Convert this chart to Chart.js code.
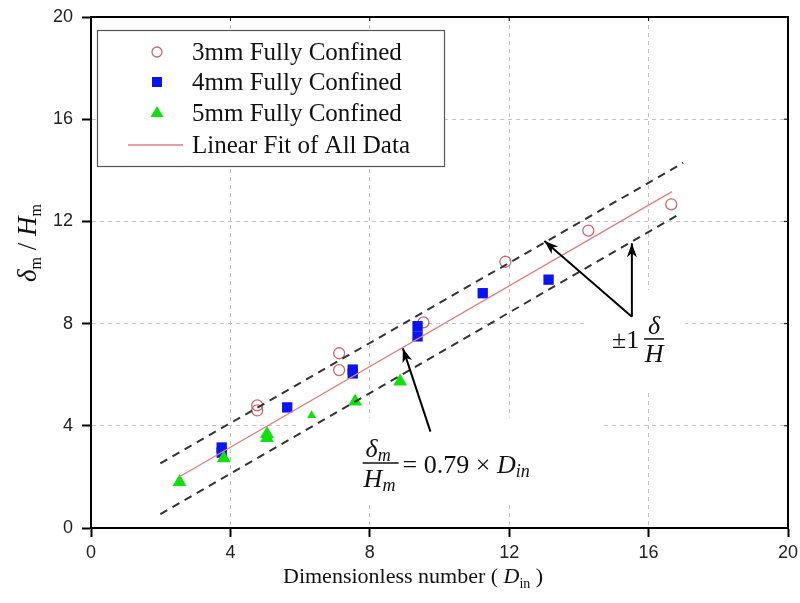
<!DOCTYPE html>
<html>
<head>
<meta charset="utf-8">
<script src="https://cdn.jsdelivr.net/npm/chart.js@4.4.1/dist/chart.umd.min.js"></script>
<style>
  html, body { margin: 0; padding: 0; background: #fff; }
  #wrap { width: 800px; height: 603px; }
</style>
</head>
<body>
<div id="wrap"><canvas id="chart" width="800" height="603"></canvas></div>
<script>
// values: x = D_in, y = delta_m / H_m
const x3mm = [4.77, 4.77, 7.12, 7.12, 9.54, 11.89, 14.27, 16.65];
const y3mm = [4.80, 4.60, 6.84, 6.18, 8.05, 10.42, 11.64, 12.67];

const x4mm = [3.75, 3.75, 5.63, 7.51, 7.51, 9.37, 9.37, 11.24, 13.13];
const y4mm = [3.15, 2.95, 4.72, 6.20, 6.05, 7.90, 7.50, 9.19, 9.72];

const x5mm = [2.54, 3.81, 5.05, 5.05, 6.33, 7.58, 8.87];
const y5mm = [1.80, 2.73, 3.68, 3.52, 4.30, 4.95, 5.73];

const fitSlope = 0.79;
const fitX = [2.54, 16.67];

// +/- band (dashed)
const upperX = [1.99, 16.99];
const upperY = [2.53, 14.29];
const lowerX = [1.99, 16.84];
const lowerY = [0.54, 12.25];

// annotation arrows, tail -> head
const arrowEqX = [9.74, 8.95];
const arrowEqY = [3.77, 7.03];
const arrowDiagX = [15.52, 13.01];
const arrowDiagY = [8.27, 11.23];
const arrowVertX = [15.52, 15.52];
const arrowVertY = [8.27, 11.14];

const axisTicks = [0, 4, 8, 12, 16, 20];

const legendLabels = ['3mm Fully Confined', '4mm Fully Confined', '5mm Fully Confined', 'Linear Fit of All Data'];

const pts = (xs, ys) => xs.map((x, i) => ({ x: x, y: ys[i] }));

const SERIF = '"Liberation Serif", "Times New Roman", serif';
const SANS = '"Liberation Sans", Arial, sans-serif';

// white areas of the pasted equation images (data units)
const patches = [
  { x0: 6.0, x1: 14.63, y0: 0.9, y1: 4.3 },
  { x0: 14.23, x1: 17.04, y0: 5.4, y1: 9.31 }
];

const lineSet = (label, xs, ys, color, width, dash, order) => ({
  label: label, data: pts(xs, ys), showLine: true, pointRadius: 0,
  borderColor: color, borderWidth: width, borderDash: dash, order: order, fill: false
});

const datasets = [
  { label: legendLabels[0], data: pts(x3mm, y3mm), pointStyle: 'circle', pointRadius: 5.5,
    pointBorderWidth: 1.3, borderColor: '#c96a70', backgroundColor: 'rgba(255,255,255,0)', order: 12 },
  { label: legendLabels[1], data: pts(x4mm, y4mm), pointStyle: 'rect', pointRadius: 7.3,
    pointBorderWidth: 0, borderColor: '#0a14f0', backgroundColor: '#0a14f0', order: 11 },
  { label: legendLabels[2], data: pts(x5mm, y5mm), pointStyle: 'triangle', pointRadius: 8,
    pointBorderWidth: 0, borderColor: '#10e010', backgroundColor: '#10e010', order: 10 },
  Object.assign(lineSet(legendLabels[3], fitX, fitX.map(v => v * fitSlope), '#e07f84', 1.4, [], 6), { patchBefore: true }),
  lineSet('upper', upperX, upperY, '#333', 2, [8, 6], 5),
  lineSet('lower', lowerX, lowerY, '#333', 2, [8, 6], 4),
  lineSet('arrowEq', arrowEqX, arrowEqY, '#000', 2, [], 3),
  lineSet('arrowDiag', arrowDiagX, arrowDiagY, '#000', 2, [], 2),
  lineSet('arrowVert', arrowVertX, arrowVertY, '#000', 2, [], 1)
];

function drawSeq(ctx, x, y, parts) {
  // parts: [text, font, dy]
  parts.forEach(p => {
    ctx.font = p[1];
    ctx.fillText(p[0], x, y + (p[2] || 0));
    x += ctx.measureText(p[0]).width;
  });
  return x;
}

function arrowHead(ctx, xs, ys, xa, ya) {
  const x1 = xs.getPixelForValue(xa[0]), y1 = ys.getPixelForValue(ya[0]);
  const x2 = xs.getPixelForValue(xa[1]), y2 = ys.getPixelForValue(ya[1]);
  const ang = Math.atan2(y2 - y1, x2 - x1);
  const len = 14, half = 5;
  ctx.save();
  ctx.translate(x2, y2);
  ctx.rotate(ang);
  ctx.fillStyle = '#000';
  ctx.beginPath();
  ctx.moveTo(0, 0);
  ctx.lineTo(-len, -half);
  ctx.lineTo(-len + 4, 0);
  ctx.lineTo(-len, half);
  ctx.closePath();
  ctx.fill();
  ctx.restore();
}

const decorPlugin = {
  id: 'decor',
  beforeDatasetDraw(chart, args) {
    if (!chart.data.datasets[args.index].patchBefore) return;
    const ctx = chart.ctx, xs = chart.scales.x, ys = chart.scales.y;
    ctx.save();
    ctx.fillStyle = '#fff';
    patches.forEach(p => {
      const l = xs.getPixelForValue(p.x0), r = xs.getPixelForValue(p.x1);
      const t = ys.getPixelForValue(p.y1), b = ys.getPixelForValue(p.y0);
      ctx.fillRect(l, t, r - l, b - t);
    });
    ctx.restore();
  },
  afterDatasetsDraw(chart) {
    const ctx = chart.ctx, xs = chart.scales.x, ys = chart.scales.y;
    const a = chart.chartArea;
    ctx.save();

    // arrow heads
    arrowHead(ctx, xs, ys, arrowEqX, arrowEqY);
    arrowHead(ctx, xs, ys, arrowDiagX, arrowDiagY);
    arrowHead(ctx, xs, ys, arrowVertX, arrowVertY);

    // frame top / right
    ctx.strokeStyle = '#000';
    ctx.lineWidth = 2;
    ctx.beginPath();
    ctx.moveTo(a.left, a.top);
    ctx.lineTo(a.right, a.top);
    ctx.lineTo(a.right, a.bottom);
    ctx.stroke();
    ctx.lineWidth = 1;
    axisTicks.slice(1, -1).forEach(v => {
      const px = xs.getPixelForValue(v), py = ys.getPixelForValue(v);
      ctx.beginPath();
      ctx.moveTo(px, a.top); ctx.lineTo(px, a.top + 4);
      ctx.moveTo(a.right, py); ctx.lineTo(a.right - 4, py);
      ctx.stroke();
    });

    // legend
    const lx = 97, ly = 30, lw = 347, lh = 136;
    ctx.fillStyle = '#fff';
    ctx.fillRect(lx, ly, lw, lh);
    ctx.strokeStyle = '#555';
    ctx.lineWidth = 1.2;
    ctx.strokeRect(lx + 0.5, ly + 0.5, lw, lh);
    const rows = [52, 82, 113, 145];
    const mx = 157;
    ctx.lineWidth = 1.3;
    ctx.strokeStyle = datasets[0].borderColor;
    ctx.beginPath(); ctx.arc(mx, rows[0], 5, 0, Math.PI * 2); ctx.stroke();
    ctx.fillStyle = datasets[1].backgroundColor;
    ctx.fillRect(mx - 5, rows[1] - 5, 10, 10);
    ctx.fillStyle = datasets[2].backgroundColor;
    ctx.beginPath();
    ctx.moveTo(mx, rows[2] - 7); ctx.lineTo(mx + 6.5, rows[2] + 4); ctx.lineTo(mx - 6.5, rows[2] + 4);
    ctx.closePath(); ctx.fill();
    ctx.strokeStyle = datasets[3].borderColor;
    ctx.lineWidth = 1.4;
    ctx.beginPath(); ctx.moveTo(128, rows[3]); ctx.lineTo(183, rows[3]); ctx.stroke();
    ctx.fillStyle = '#111';
    ctx.font = '25px ' + SERIF;
    ctx.textBaseline = 'middle';
    legendLabels.forEach((t, i) => ctx.fillText(t, 192, rows[i] + 1));

    ctx.textBaseline = 'alphabetic';
    const it = sz => 'italic ' + sz + 'px ' + SERIF;
    const up = sz => sz + 'px ' + SERIF;

    // equation  delta_m / H_m = 0.79 x D_in
    const ex = xs.getPixelForValue(8.31), ey = ys.getPixelForValue(2.54);
    ctx.fillStyle = '#111';
    drawSeq(ctx, ex - 15, ey - 6, [['\u03B4', it(26)], ['m', it(18), 4]]);
    drawSeq(ctx, ex - 17, ey + 24, [['H', it(26)], ['m', it(18), 4]]);
    ctx.strokeStyle = '#111';
    ctx.lineWidth = 1.5;
    ctx.beginPath(); ctx.moveTo(ex - 18, ey); ctx.lineTo(ex + 18, ey); ctx.stroke();
    drawSeq(ctx, ex + 22, ey + 10, [['= 0.79 \u00D7 ', up(26)], ['D', it(26)], ['in', it(18), 4]]);

    // +/- 1 delta/H
    const bx = xs.getPixelForValue(15.87), by = ys.getPixelForValue(7.4);
    ctx.font = up(26);
    ctx.fillText('\u00B11', bx - 32, by + 9);
    ctx.textAlign = 'center';
    ctx.font = it(26);
    ctx.fillText('\u03B4', bx + 10, by - 5);
    ctx.fillText('H', bx + 10, by + 23);
    ctx.beginPath(); ctx.moveTo(bx, by); ctx.lineTo(bx + 20, by); ctx.stroke();
    ctx.textAlign = 'left';

    // x title
    ctx.fillStyle = '#111';
    drawSeq(ctx, 283, 583, [['Dimensionless number ( ', up(22)], ['D', it(22)], ['in', up(14), 5], [' )', up(22)]]);

    // y title (rotated)
    ctx.save();
    ctx.translate(36, 243);
    ctx.rotate(-Math.PI / 2);
    const parts = [['\u03B4', it(27)], ['m', up(16), 5], [' / ', up(27)], ['H', it(27)], ['m', up(16), 5]];
    let w = 0;
    parts.forEach(p => { ctx.font = p[1]; w += ctx.measureText(p[0]).width; });
    drawSeq(ctx, -w / 2, 0, parts);
    ctx.restore();

    ctx.restore();
  }
};

const gridColor = c => (c.tick && (c.tick.value === 0 || c.tick.value === 20)) ? 'rgba(0,0,0,0)' : '#c4c4c4';

function axisOpts(isX) {
  return {
    type: 'linear', min: 0, max: 20,
    afterBuildTicks: s => { s.ticks = axisTicks.map(v => ({ value: v })); },
    afterFit: s => {
      s.paddingLeft = 0; s.paddingRight = 0; s.paddingTop = 0; s.paddingBottom = 0;
      if (isX) s.height = 75; else s.width = 91;
    },
    grid: {
      color: gridColor, lineWidth: 1,
      drawTicks: true, tickLength: 9, tickColor: '#000', tickWidth: 2, tickBorderDash: []
    },
    border: { display: true, color: '#000', width: 2, dash: [4, 4] },
    ticks: {
      font: { family: SANS, size: 18 }, color: '#222',
      padding: isX ? 5 : 9,
      callback: v => String(v)
    }
  };
}

new Chart(document.getElementById('chart'), {
  type: 'scatter',
  data: { datasets: datasets },
  options: {
    responsive: false,
    animation: false,
    layout: { padding: { left: 0, top: 17, right: 12, bottom: 0 } },
    plugins: { legend: { display: false }, tooltip: { enabled: false } },
    scales: { x: axisOpts(true), y: axisOpts(false) }
  },
  plugins: [decorPlugin]
});
</script>
</body>
</html>
